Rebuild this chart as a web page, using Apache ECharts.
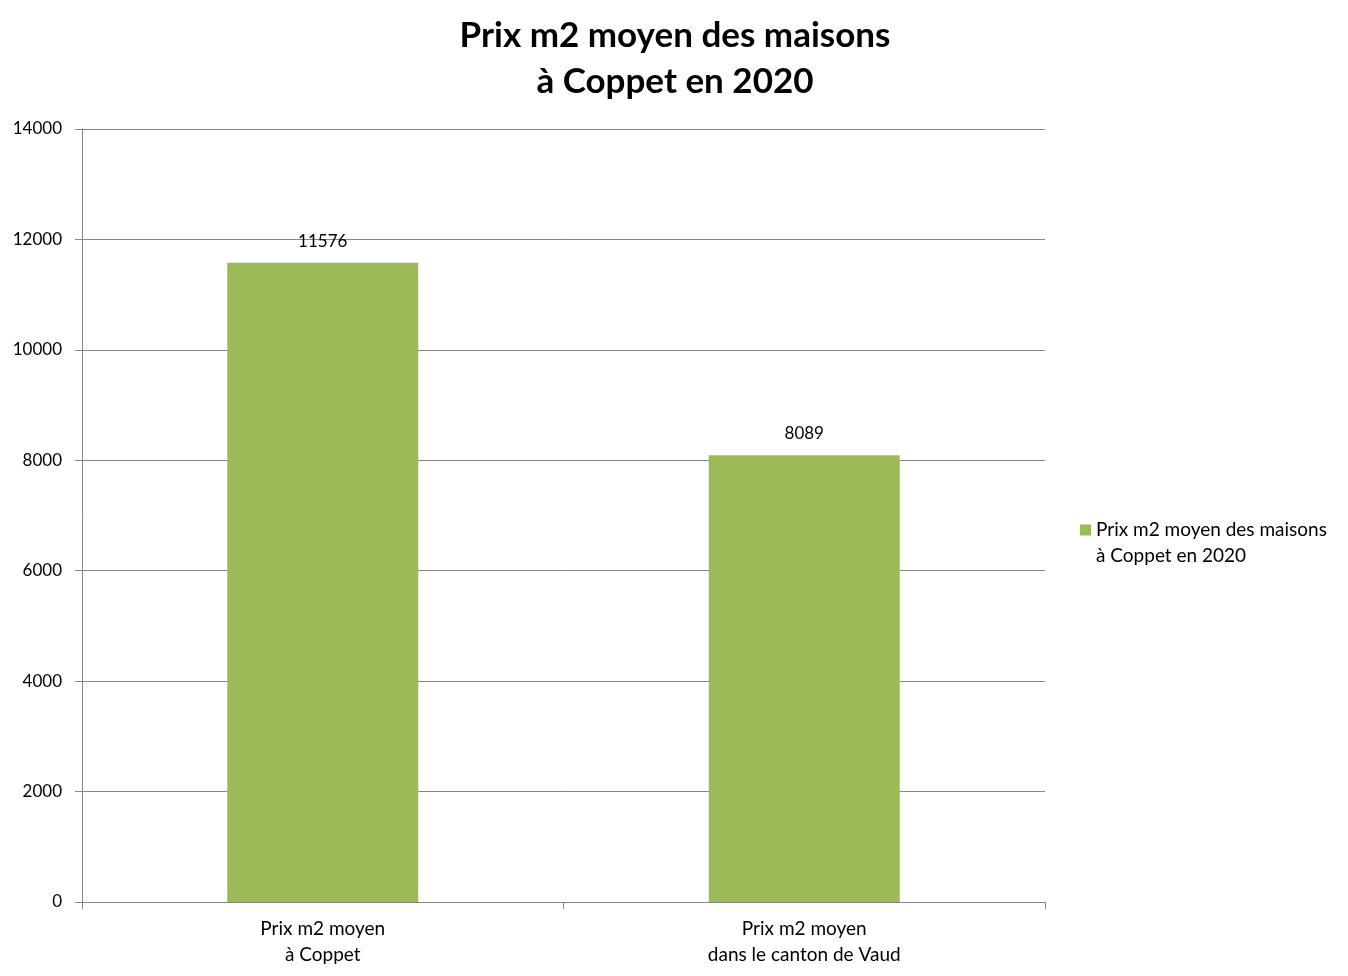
<!DOCTYPE html>
<html>
<head>
<meta charset="utf-8">
<script src="https://cdn.jsdelivr.net/npm/echarts@6/dist/echarts.min.js"></script>
<style>
html,body{margin:0;padding:0;background:#fff;}
#chart{width:1348px;height:976px;}
</style>
</head>
<body>
<div id="chart"></div>
<script>
const titleLines = ['Prix m2 moyen des maisons', 'à Coppet en 2020'];
const categories = ['Prix m2 moyen\nà Coppet', 'Prix m2 moyen\ndans le canton de Vaud'];
const seriesName = 'Prix m2 moyen des maisons à Coppet en 2020';
const legendLines = ['Prix m2 moyen des maisons', 'à Coppet en 2020'];
const values = [11576, 8089];
const yMin = 0, yMax = 14000, yStep = 2000;

const FONT = 'Lato, "Open Sans", sans-serif';
const chart = echarts.init(document.getElementById('chart'));
chart.setOption({
  backgroundColor: '#ffffff',
  animation: false,
  title: {
    text: titleLines.join('\n'),
    left: 670, textAlign: 'center', top: 8,
    textStyle: {fontFamily: FONT, fontWeight: 'bold', fontSize: 35, lineHeight: 46, color: '#000'}
  },
  legend: {
    orient: 'vertical', left: 1075, top: 486,
    itemWidth: 11, itemHeight: 11, itemGap: 4,
    formatter: () => '\n' + legendLines.join('\n'),
    textStyle: {fontFamily: FONT, fontSize: 19, lineHeight: 26, color: '#000'},
    data: [{name: seriesName, icon: 'rect'}]
  },
  grid: {left: 82, right: 303, top: 129, bottom: 74, containLabel: false},
  xAxis: {
    type: 'category', data: categories,
    axisLine: {lineStyle: {color: '#868686', width: 1}},
    axisTick: {show: true, length: 7, alignWithLabel: false, lineStyle: {color: '#868686'}},
    axisLabel: {fontFamily: FONT, fontSize: 19, lineHeight: 26, color: '#000', margin: 14}
  },
  yAxis: {
    type: 'value', min: yMin, max: yMax, interval: yStep,
    axisLine: {show: true, lineStyle: {color: '#868686', width: 1}},
    axisTick: {show: true, length: 7, lineStyle: {color: '#868686'}},
    splitLine: {show: true, lineStyle: {color: '#868686', width: 1}},
    axisLabel: {fontFamily: FONT, fontSize: 17, color: '#000', margin: 20, formatter: v => String(v)}
  },
  series: [{
    name: seriesName, type: 'bar', data: values, barWidth: 191,
    itemStyle: {color: '#9BBB59'},
    label: {show: true, position: 'top', distance: 13, fontFamily: FONT, fontSize: 17, color: '#000'}
  }]
});
</script>
</body>
</html>
